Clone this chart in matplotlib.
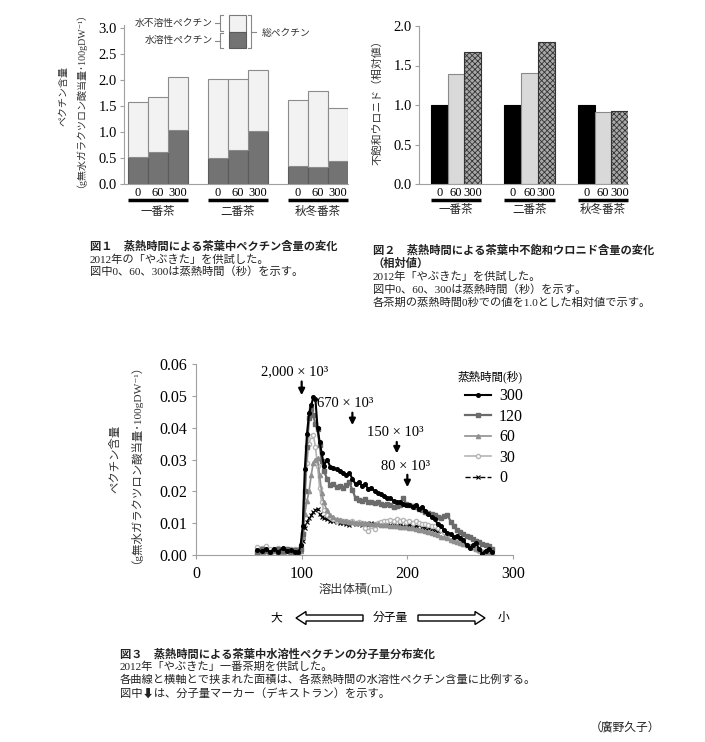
import numpy as np
import matplotlib.pyplot as plt
from matplotlib.patches import Rectangle, FancyArrow

plt.rcParams['font.family'] = ['Liberation Serif', 'Noto Sans CJK JP', 'DejaVu Sans']
plt.rcParams['hatch.linewidth'] = 0.6

# ---- data -------------------------------------------------------------
seasons = ['一番茶', '二番茶', '秋冬番茶']
steam_labels = ['0', '60', '300']

# fig 1: pectin content (g / 100gDW), per season x steaming time
total_pectin = [1.57, 1.66, 2.05, 2.02, 2.02, 2.19, 1.61, 1.78, 1.46]
soluble_pectin = [0.52, 0.61, 1.04, 0.50, 0.65, 1.02, 0.34, 0.33, 0.45]

# fig 2: unsaturated uronide (relative)
uronide = [1.00, 1.39, 1.67, 1.00, 1.41, 1.80, 1.00, 0.91, 0.93]

# fig 3: elution profiles
vol = [58, 62, 66, 70, 74, 78, 82, 86, 90, 94,
       97, 99, 101, 103, 105, 107, 109, 111, 113, 115, 117, 119, 121,
       124, 127, 130, 133, 136, 139, 142, 145, 148, 151,
       154, 157, 160, 163, 166, 169, 172, 175, 178, 181,
       184, 187, 190, 193, 196, 199, 202, 205, 208, 211,
       214, 217, 220, 223, 226, 229, 232, 235, 238, 241,
       244, 247, 250, 253, 256, 259, 262, 265, 268, 271,
       274, 277, 280]

s300 = [0.0015, 0.0012, 0.0018, 0.0008, 0.0020, 0.0010, 0.0022, 0.0012, 0.0016, 0.0010,
        0.0008, 0.0030, 0.0090, 0.0270, 0.0380, 0.0445, 0.0470, 0.0495, 0.0490, 0.0400, 0.0355, 0.0320, 0.0280,
        0.0300, 0.0278, 0.0272, 0.0270, 0.0265, 0.0258, 0.0252, 0.0258, 0.0240, 0.0222,
        0.0228, 0.0218, 0.0222, 0.0208, 0.0212, 0.0200, 0.0196, 0.0192, 0.0186, 0.0180,
        0.0178, 0.0170, 0.0166, 0.0168, 0.0160, 0.0156, 0.0158, 0.0152, 0.0156, 0.0146,
        0.0150, 0.0138, 0.0130, 0.0118, 0.0112, 0.0096, 0.0090, 0.0078, 0.0068, 0.0066,
        0.0058, 0.0060, 0.0054, 0.0048, 0.0030, 0.0022, 0.0030, 0.0038, 0.0018, 0.0004,
        0.0014, 0.0020, 0.0010]

s120 = [0.0010, 0.0020, 0.0012, 0.0008, 0.0015, 0.0018, 0.0012, 0.0020, 0.0010, 0.0015,
        0.0010, 0.0020, 0.0065, 0.0200, 0.0340, 0.0430, 0.0460, 0.0440, 0.0410, 0.0395, 0.0345, 0.0295, 0.0265,
        0.0240, 0.0220, 0.0222, 0.0215, 0.0218, 0.0212, 0.0220, 0.0228, 0.0205, 0.0178,
        0.0172, 0.0170, 0.0175, 0.0166, 0.0168, 0.0162, 0.0165, 0.0160, 0.0158, 0.0160,
        0.0156, 0.0152, 0.0154, 0.0158, 0.0180, 0.0160, 0.0158, 0.0155, 0.0150, 0.0145,
        0.0140, 0.0136, 0.0132, 0.0130, 0.0125, 0.0120, 0.0115, 0.0122, 0.0126, 0.0105,
        0.0090, 0.0080, 0.0072, 0.0066, 0.0060, 0.0055, 0.0050, 0.0045, 0.0040, 0.0035,
        0.0030, 0.0028, 0.0020]

s60 = [0.0012, 0.0010, 0.0015, 0.0010, 0.0012, 0.0015, 0.0010, 0.0012, 0.0018, 0.0012,
       0.0005, 0.0012, 0.0060, 0.0130, 0.0170, 0.0200, 0.0250, 0.0290, 0.0300, 0.0305, 0.0250, 0.0195, 0.0165,
       0.0140, 0.0125, 0.0118, 0.0112, 0.0110, 0.0108, 0.0106, 0.0104, 0.0103, 0.0102,
       0.0101, 0.0100, 0.0100, 0.0099, 0.0098, 0.0097, 0.0096, 0.0095, 0.0094, 0.0093,
       0.0092, 0.0091, 0.0090, 0.0089, 0.0088, 0.0087, 0.0086, 0.0084, 0.0082, 0.0080,
       0.0078, 0.0075, 0.0072, 0.0068, 0.0065, 0.0062, 0.0058, 0.0055, 0.0052, 0.0048,
       0.0045, 0.0042, 0.0038, 0.0035, 0.0032, 0.0028, 0.0024, 0.0020, 0.0016, 0.0012,
       0.0008, 0.0006, 0.0004]

s30 = [0.0025, 0.0022, 0.0028, 0.0020, 0.0018, 0.0022, 0.0015, 0.0020, 0.0018, 0.0020,
       0.0020, 0.0030, 0.0070, 0.0170, 0.0290, 0.0350, 0.0375, 0.0378, 0.0340, 0.0280, 0.0210, 0.0165, 0.0140,
       0.0125, 0.0118, 0.0112, 0.0108, 0.0110, 0.0106, 0.0108, 0.0104, 0.0106, 0.0102,
       0.0104, 0.0100, 0.0085, 0.0074, 0.0090, 0.0082, 0.0100, 0.0104, 0.0108, 0.0106,
       0.0110, 0.0108, 0.0112, 0.0106, 0.0110, 0.0104, 0.0108, 0.0102, 0.0106, 0.0100,
       0.0098, 0.0096, 0.0094, 0.0092, 0.0090, 0.0086, 0.0080, 0.0072, 0.0065, 0.0058,
       0.0050, 0.0044, 0.0038, 0.0034, 0.0030, 0.0026, 0.0022, 0.0018, 0.0014, 0.0010,
       0.0008, 0.0006, 0.0004]

s0 = [0.0010, 0.0012, 0.0010, 0.0014, 0.0012, 0.0010, 0.0012, 0.0010, 0.0011, 0.0010,
      0.0008, 0.0015, 0.0045, 0.0085, 0.0105, 0.0115, 0.0125, 0.0135, 0.0142, 0.0145, 0.0128, 0.0120, 0.0116,
      0.0112, 0.0108, 0.0106, 0.0104, 0.0100, 0.0102, 0.0097, 0.0094, 0.0099, 0.0096,
      0.0100, 0.0094, 0.0098, 0.0095, 0.0100, 0.0096, 0.0098, 0.0094, 0.0097, 0.0095,
      0.0093, 0.0096, 0.0092, 0.0094, 0.0090, 0.0093, 0.0095, 0.0092, 0.0090, 0.0094,
      0.0088, 0.0086, 0.0084, 0.0082, 0.0079, 0.0076, np.nan, np.nan, np.nan, np.nan,
      np.nan, np.nan, np.nan, np.nan, np.nan, np.nan, np.nan, np.nan, np.nan, np.nan,
      np.nan, np.nan, np.nan]

series_names = ['300', '120', '60', '30', '0']
marker_labels = ['2,000 × 10³', '670 × 10³', '150 × 10³', '80 × 10³']
marker_vol = [100, 148, 190, 200]

# ---- figure -----------------------------------------------------------
W, H = 705, 742
fig = plt.figure(figsize=(W / 100, H / 100), dpi=100)

# pixel overlay for free text, drawn above the chart axes
ov = fig.add_axes([0, 0, 1, 1])
ov.set_xlim(0, W)
ov.set_ylim(H, 0)
ov.axis('off')
ov.set_zorder(10)

def px_axes(l, t, r, b):
    a = fig.add_axes([l / W, 1 - b / H, (r - l) / W, (b - t) / H])
    a.set_facecolor('none')
    return a

spine_c = '#a0a0a0'

def style_bar_axes(ax):
    for s in ['top', 'right']:
        ax.spines[s].set_visible(False)
    ax.spines['left'].set_color(spine_c)
    ax.spines['bottom'].set_color(spine_c)
    ax.tick_params(axis='y', direction='out', length=3, color=spine_c, labelsize=10.5, pad=2)
    ax.tick_params(axis='x', length=0, labelsize=9, pad=2.5)

def group_marks(ax, pos, dy_line, dy_text):
    tr = ax.get_xaxis_transform()
    for g, name in enumerate(seasons):
        p = pos[g * 3:(g + 1) * 3]
        ax.plot([p[0] - 0.5, p[-1] + 0.5], [dy_line, dy_line], transform=tr,
                color='black', lw=2.5, clip_on=False, solid_capstyle='butt')
        ax.text(np.mean(p), dy_text, name, transform=tr, ha='center', va='center',
                fontsize=8.3, color='#222')

# --- Fig 1 ---
ax1 = px_axes(124, 25, 348, 184)
pos1 = [g * 4 + j for g in range(3) for j in range(3)]
insoluble = [t - s for t, s in zip(total_pectin, soluble_pectin)]
ax1.bar(pos1, soluble_pectin, width=1, color='#737373', edgecolor='#5a5a5a', lw=0.8)
ax1.bar(pos1, insoluble, bottom=soluble_pectin, width=1, color='#f2f2f2',
        edgecolor='#8c8c8c', lw=0.8)
ax1.set_xlim(-0.685, 10.515)
ax1.set_ylim(0, 3.05)
ax1.set_yticks([0, 0.5, 1.0, 1.5, 2.0, 2.5, 3.0])
ax1.set_yticklabels(['0.0', '0.5', '1.0', '1.5', '2.0', '2.5', '3.0'])
ax1.set_xticks(pos1, steam_labels * 3)
style_bar_axes(ax1)
group_marks(ax1, pos1, -0.10, -0.176)

# legend of fig 1
ov.add_patch(Rectangle((229, 15), 17, 17, fc='#f2f2f2', ec='#7a7a7a', lw=0.8))
ov.add_patch(Rectangle((229, 32), 17, 16, fc='#737373', ec='#5a5a5a', lw=0.8))
ov.text(213, 23, '水不溶性ペクチン', ha='right', va='center', fontsize=7, color='#333')
ov.text(213, 40, '水溶性ペクチン', ha='right', va='center', fontsize=7, color='#333')
for t, b in [(15, 31), (33, 48)]:
    ov.plot([223, 220, 220, 223], [t, t, b, b], color='#888', lw=0.8)
    ov.plot([215, 220], [(t + b) / 2, (t + b) / 2], color='#888', lw=0.8)
ov.plot([248, 251, 251, 248], [15, 15, 48, 48], color='#888', lw=0.8)
ov.plot([251, 256], [32, 32], color='#888', lw=0.8)
ov.text(262, 33, '総ペクチン', ha='left', va='center', fontsize=7, color='#333')
ov.text(70, 96, 'ペクチン含量\n（g無水ガラクツロン酸当量･100gDW⁻¹）', rotation=90,
        ha='center', va='center', fontsize=7.2, linespacing=1.3, color='#333')

# --- Fig 2 ---
ax2 = px_axes(418.7, 26, 628, 184)
pos2 = [g * 4.4 + j for g in range(3) for j in range(3)]
fc2 = ['black', '#d9d9d9', '#a8a8a8'] * 3
ec2 = ['black', '#8a8a8a', '#333333'] * 3
hatch2 = ['', '', 'xxxxxx'] * 3
for p, v, fc, ec, h in zip(pos2, uronide, fc2, ec2, hatch2):
    ax2.bar(p, v, width=1, color=fc, edgecolor=ec, hatch=h, lw=0.8)
ax2.set_xlim(-1.24, 11.3)
ax2.set_ylim(0, 2.0)
ax2.set_yticks([0, 0.5, 1.0, 1.5, 2.0])
ax2.set_yticklabels(['0.0', '0.5', '1.0', '1.5', '2.0'])
ax2.set_xticks(pos2, steam_labels * 3)
style_bar_axes(ax2)
group_marks(ax2, pos2, -0.101, -0.165)
ov.text(377, 100, '不飽和ウロニド（相対値）', rotation=90, ha='center', va='center',
        fontsize=7.8, color='#333')

# --- captions fig 1 / 2 ---
cap = dict(fontsize=8.1, ha='left', va='center', color='#222')
ov.text(90, 246, '図１　蒸熱時間による茶葉中ペクチン含量の変化', weight='bold', **cap)
ov.text(90, 259.5, '2012年の「やぶきた」を供試した。', **cap)
ov.text(90, 272, '図中0、60、300は蒸熱時間（秒）を示す。', **cap)
ov.text(373, 250, '図２　蒸熱時間による茶葉中不飽和ウロニド含量の変化', weight='bold', **cap)
ov.text(373, 263.5, '（相対値）', weight='bold', **cap)
ov.text(373, 276.5, '2012年「やぶきた」を供試した。', **cap)
ov.text(373, 289.5, '図中0、60、300は蒸熱時間（秒）を示す。', **cap)
ov.text(373, 302.5, '各茶期の蒸熱時間0秒での値を1.0とした相対値で示す。', **cap)

# --- Fig 3 ---
ax3 = px_axes(196, 364, 513, 555)
styles = {
    '300': dict(color='black', marker='o', ms=2.6, lw=1.5, mfc='black'),
    '120': dict(color='#6b6b6b', marker='s', ms=3.2, lw=1.6, mfc='#6b6b6b'),
    '60': dict(color='#8f8f8f', marker='^', ms=3.0, lw=1.2, mfc='#8f8f8f'),
    '30': dict(color='#b5b5b5', marker='o', ms=3.0, lw=1.2, mfc='white'),
    '0': dict(color='black', marker='x', ms=2.6, lw=1.0, ls='--', mew=0.8),
}
data3 = {'300': s300, '120': s120, '60': s60, '30': s30, '0': s0}
handles = {}
for name in ['0', '30', '60', '120', '300']:
    ln, = ax3.plot(vol, data3[name], label=name, **styles[name])
    handles[name] = ln
ax3.set_xlim(0, 300)
ax3.set_ylim(0, 0.06)
ax3.set_xticks([0, 100, 200, 300])
ax3.set_yticks([0, 0.01, 0.02, 0.03, 0.04, 0.05, 0.06])
ax3.set_yticklabels(['0.00', '0.01', '0.02', '0.03', '0.04', '0.05', '0.06'])
for s in ['top', 'right']:
    ax3.spines[s].set_visible(False)
ax3.spines['left'].set_color(spine_c)
ax3.spines['bottom'].set_color(spine_c)
ax3.tick_params(direction='out', length=3, color=spine_c, labelsize=11.5)
ax3.tick_params(axis='x', pad=5)

leg = ax3.legend([handles[n] for n in series_names], series_names, title='蒸熱時間(秒)',
                 loc='upper left', bbox_to_anchor=(450 / W, 1 - 363 / H),
                 bbox_transform=fig.transFigure, frameon=False, fontsize=11.5,
                 title_fontsize=8.3, numpoints=1, handlelength=1.6, labelspacing=0.28,
                 handletextpad=0.5, borderpad=0, alignment='right')

text_pos = [(93, 0.0575), (141, 0.0475), (188.5, 0.0384), (198, 0.0278)]
arrow_y = [(0.0545, 0.0502), (0.0447, 0.0408), (0.0355, 0.0319), (0.0252, 0.0213)]
for lab, v, tp, ay in zip(marker_labels, marker_vol, text_pos, arrow_y):
    ax3.text(tp[0], tp[1], lab, ha='center', va='center', fontsize=10.5)
    ax3.annotate('', xy=(v, ay[1]), xytext=(v, ay[0]),
                 arrowprops=dict(arrowstyle='-|>', color='black', lw=1.6,
                                 mutation_scale=9, shrinkA=0, shrinkB=0))

ov.text(123, 459, 'ペクチン含量\n（g無水ガラクツロン酸当量･100gDW⁻¹）', rotation=90,
        ha='center', va='center', fontsize=8.2, linespacing=1.35, color='#333')
ov.text(356, 589, '溶出体積(mL)', ha='center', va='center', fontsize=8.8, color='#333')

# molecular size arrows
ov.text(276, 618, '大', ha='center', va='center', fontsize=8.5)
ov.text(390, 618, '分子量', ha='center', va='center', fontsize=8.5)
ov.text(503, 618, '小', ha='center', va='center', fontsize=8.5)
ov.add_patch(FancyArrow(363, 618, -67, 0, width=6, head_width=13, head_length=10,
                        length_includes_head=True, fc='white', ec='black', lw=1))
ov.add_patch(FancyArrow(418, 618, 67, 0, width=6, head_width=13, head_length=10,
                        length_includes_head=True, fc='white', ec='black', lw=1))

ov.text(120, 654, '図３　蒸熱時間による茶葉中水溶性ペクチンの分子量分布変化', weight='bold', **cap)
ov.text(120, 667, '2012年「やぶきた」一番茶期を供試した。', **cap)
ov.text(120, 680, '各曲線と横軸とで挟まれた面積は、各蒸熱時間の水溶性ペクチン含量に比例する。', **cap)
ov.text(120, 693, '図中⬇は、分子量マーカー（デキストラン）を示す。', **cap)
ov.text(660, 728, '（廣野久子）', ha='right', va='center', fontsize=8.5, color='#222')

fig.savefig('out.png', dpi=100)
